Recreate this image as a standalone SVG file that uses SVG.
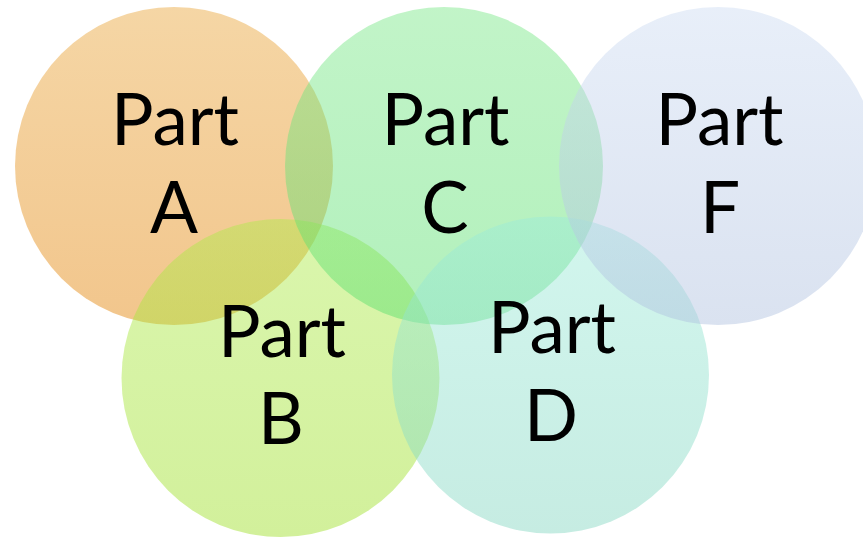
<svg xmlns="http://www.w3.org/2000/svg" width="863" height="537" viewBox="0 0 863 537">
  <defs>
    <linearGradient id="gA" x1="0" y1="0" x2="0" y2="1">
      <stop offset="0" stop-color="#E9A437"/>
      <stop offset="1" stop-color="#E28000"/>
    </linearGradient>
    <linearGradient id="gB" x1="0" y1="0" x2="0" y2="1">
      <stop offset="0" stop-color="#ADEB49"/>
      <stop offset="1" stop-color="#9BDE21"/>
    </linearGradient>
    <linearGradient id="gC" x1="0" y1="0" x2="0" y2="1">
      <stop offset="0" stop-color="#77E785"/>
      <stop offset="1" stop-color="#54DE6A"/>
    </linearGradient>
    <linearGradient id="gD" x1="0" y1="0" x2="0" y2="1">
      <stop offset="0" stop-color="#9BEBD9"/>
      <stop offset="1" stop-color="#80D5BF"/>
    </linearGradient>
    <linearGradient id="gF" x1="0" y1="0" x2="0" y2="1">
      <stop offset="0" stop-color="#CCDBF2"/>
      <stop offset="1" stop-color="#ADBFDE"/>
    </linearGradient>
  </defs>
  <style>
    .disc { fill-opacity: 0.45; }
    .lbl { font-family: Lato, "Open Sans", "Liberation Sans", sans-serif; font-size: 71px; fill: #000; text-anchor: middle; }
  </style>
  <rect width="863" height="537" fill="#fff"/>
  <!-- translucent discs, stacked A, B, C, D, F -->
  <g id="partA">
    <circle class="disc" cx="174" cy="166" r="159" fill="url(#gA)"/>
  </g>
  <g id="partB">
    <circle class="disc" cx="280.5" cy="378" r="159" fill="url(#gB)"/>
  </g>
  <g id="partC">
    <circle class="disc" cx="444" cy="166" r="159" fill="url(#gC)"/>
  </g>
  <g id="partD">
    <circle class="disc" cx="550.5" cy="375" r="158.5" fill="url(#gD)"/>
  </g>
  <g id="partF">
    <circle class="disc" cx="718" cy="166" r="159" fill="url(#gF)"/>
  </g>
  <g id="labels">
    <text class="lbl" x="175" y="145">Part</text>
    <text class="lbl" x="174" y="233">A</text>
    <text class="lbl" x="445.5" y="145">Part</text>
    <text class="lbl" x="445" y="233">C</text>
    <text class="lbl" x="719.5" y="145">Part</text>
    <text class="lbl" x="720" y="233">F</text>
    <text class="lbl" x="282" y="357">Part</text>
    <text class="lbl" x="281" y="444">B</text>
    <text class="lbl" x="552" y="353">Part</text>
    <text class="lbl" x="551" y="441">D</text>
  </g>
</svg>
